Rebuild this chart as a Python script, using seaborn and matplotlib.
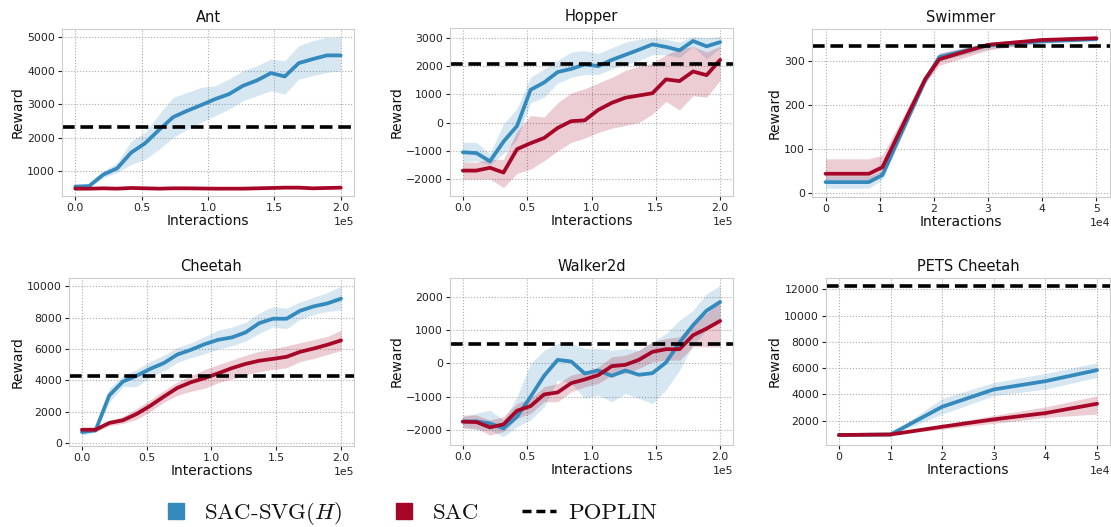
import numpy as np
import seaborn as sns
import matplotlib.pyplot as plt
from matplotlib.lines import Line2D
from matplotlib.ticker import MultipleLocator

# interaction steps (x values) for each environment
X_200K = [0, 10526, 21053, 31579, 42105, 52632, 63158, 73684, 84211, 94737,
          105263, 115789, 126316, 136842, 147368, 157895, 168421, 178947, 189474, 200000]
SWIM_X = [0, 8000, 10500, 18400, 21000, 30000, 40000, 50000]
PETS_X = [0, 10000, 20000, 30000, 40000, 50000]

# Ant
ant_svg = [530, 550, 890, 1080, 1550, 1830, 2230, 2610, 2800, 2970, 3150, 3300, 3550, 3710, 3930, 3830, 4230, 4350, 4460, 4460]
ant_svg_lo = [500, 520, 800, 950, 1200, 1350, 1650, 2000, 2250, 2450, 2650, 2850, 3100, 3250, 3400, 3300, 3750, 3850, 3950, 4000]
ant_svg_hi = [560, 580, 1000, 1250, 1900, 2150, 2700, 3200, 3350, 3500, 3550, 3750, 4000, 4150, 4350, 4300, 4750, 4900, 5000, 5000]
ant_sac = [470, 470, 480, 470, 490, 480, 470, 480, 480, 475, 470, 470, 470, 480, 490, 500, 500, 480, 490, 500]
ant_sac_lo = [440, 445, 455, 445, 465, 455, 445, 455, 455, 450, 445, 445, 445, 455, 465, 475, 470, 455, 465, 475]
ant_sac_hi = [500, 495, 505, 495, 515, 505, 495, 505, 505, 500, 495, 495, 495, 505, 515, 525, 530, 505, 515, 525]
ant_poplin = 2330

# Hopper
hop_svg = [-1050, -1080, -1370, -675, -120, 1160, 1420, 1790, 1900, 2060, 2000, 2220, 2400, 2580, 2770, 2680, 2560, 2890, 2700, 2850]
hop_svg_lo = [-1400, -1350, -1500, -1100, -600, 700, 900, 1400, 1600, 1700, 1700, 1900, 2050, 2200, 2400, 2400, 2300, 2700, 2250, 2650]
hop_svg_hi = [-700, -700, -1100, -50, 500, 1600, 1900, 2200, 2500, 2550, 2450, 2650, 2850, 2950, 3000, 2950, 2850, 3050, 3000, 3050]
hop_sac = [-1700, -1700, -1600, -1770, -940, -730, -545, -190, 50, 80, 450, 700, 880, 960, 1040, 1530, 1470, 1810, 1680, 2220]
hop_sac_lo = [-2000, -2000, -2000, -2300, -1800, -1650, -1350, -1000, -700, -550, -350, -200, -100, 0, 300, 750, 450, 950, 900, 1500]
hop_sac_hi = [-1400, -1400, -1300, -1300, -300, 250, 200, 700, 1050, 1200, 1400, 1600, 1850, 2000, 2100, 2400, 2600, 2700, 2500, 2700]
hop_poplin = 2060

# Swimmer
swim_svg = [24, 24, 40, 257, 309, 336, 345, 350]
swim_svg_lo = [10, 10, 30, 248, 300, 328, 340, 346]
swim_svg_hi = [38, 38, 50, 266, 318, 342, 350, 354]
swim_sac = [43, 43, 58, 259, 304, 337, 348, 352]
swim_sac_lo = [30, 30, 40, 249, 290, 325, 343, 348]
swim_sac_hi = [77, 77, 85, 269, 318, 342, 353, 356]
swim_poplin = 335

# Cheetah
che_svg = [700, 810, 3030, 3920, 4290, 4730, 5100, 5650, 5950, 6310, 6590, 6740, 7060, 7650, 7930, 7930, 8440, 8720, 8910, 9210]
che_svg_lo = [500, 700, 2600, 3600, 3600, 4200, 4600, 5150, 5450, 5700, 6000, 6200, 6500, 7000, 7400, 7300, 7900, 8200, 8400, 8500]
che_svg_hi = [900, 950, 3500, 4300, 4700, 5200, 5600, 6100, 6400, 6800, 7200, 7400, 7700, 8300, 8700, 8600, 9000, 9300, 9600, 10000]
che_sac = [850, 850, 1280, 1450, 1850, 2370, 2960, 3520, 3880, 4140, 4450, 4780, 5050, 5250, 5370, 5500, 5820, 6030, 6270, 6550]
che_sac_lo = [700, 700, 1100, 1250, 1500, 2000, 2600, 3050, 3300, 3500, 3850, 4100, 4350, 4550, 4700, 4800, 5200, 5400, 5650, 5900]
che_sac_hi = [950, 950, 1450, 1700, 2200, 2750, 3350, 3900, 4300, 4700, 5000, 5300, 5600, 5850, 6000, 6200, 6400, 6600, 6800, 7200]
che_poplin = 4260

# Walker2d
walk_svg = [-1740, -1740, -1800, -1950, -1600, -1000, -370, 110, 60, -300, -210, -370, -210, -340, -290, 30, 630, 1150, 1590, 1850]
walk_svg_lo = [-1900, -2000, -2000, -2200, -1900, -1700, -1300, -500, -600, -1050, -950, -1150, -900, -1050, -1200, -800, -200, 550, 1000, 1300]
walk_svg_hi = [-1600, -1500, -1400, -1700, -1000, 0, 400, 600, 600, 450, 450, 400, 450, 400, 650, 900, 1300, 1600, 2100, 2350]
walk_sac = [-1750, -1760, -1920, -1830, -1420, -1280, -930, -870, -590, -480, -350, -80, -40, 110, 350, 430, 430, 850, 1050, 1280]
walk_sac_lo = [-1950, -1950, -2150, -2050, -1650, -1500, -1150, -1150, -850, -700, -600, -350, -300, -150, 50, 100, 100, 500, 500, 500]
walk_sac_hi = [-1550, -1550, -1700, -1600, -1200, -1050, -700, -600, -350, -250, -100, 200, 250, 400, 650, 750, 800, 1250, 1500, 1950]
walk_poplin = 580

# PETS Cheetah
pets_svg = [910, 950, 3060, 4380, 5010, 5850]
pets_svg_lo = [860, 900, 2500, 3900, 4400, 5300]
pets_svg_hi = [960, 1000, 3700, 4900, 5600, 6400]
pets_sac = [910, 950, 1540, 2100, 2580, 3290]
pets_sac_lo = [860, 900, 1350, 1800, 2250, 2500]
pets_sac_hi = [960, 1000, 1700, 2400, 3050, 3900]
pets_poplin = 12250

BLUE = '#348ABD'
RED = '#A60628'

sns.set_style('whitegrid', rc={
    'axes.edgecolor': '#cccccc',
    'axes.linewidth': 1.2,
    'grid.color': '#aaaaaa',
    'grid.linestyle': ':',
    'grid.linewidth': 0.8,
    'xtick.bottom': True,
    'ytick.left': True,
    'xtick.color': '#222222',
    'ytick.color': '#222222',
    'text.color': '#111111',
    'axes.labelcolor': '#111111',
})
plt.rcParams['font.family'] = ['DejaVu Sans']
plt.rcParams['mathtext.fontset'] = 'cm'
plt.rcParams['xtick.major.size'] = 3
plt.rcParams['ytick.major.size'] = 3
plt.rcParams['xtick.major.width'] = 0.8
plt.rcParams['ytick.major.width'] = 0.8

W, H = 1111, 527
fig = plt.figure(figsize=(W / 100, H / 100), dpi=100)

# (left, top, right, bottom) in pixels
boxes = [(62, 29, 354, 196), (450, 28, 733, 196), (812, 29, 1110, 197),
         (69, 278, 354, 446), (450, 278, 733, 445), (826, 278, 1110, 445)]

panels = [
    ('Ant', X_200K, ant_svg, ant_svg_lo, ant_svg_hi, ant_sac, ant_sac_lo, ant_sac_hi, ant_poplin, (250, 5250), 1000),
    ('Hopper', X_200K, hop_svg, hop_svg_lo, hop_svg_hi, hop_sac, hop_sac_lo, hop_sac_hi, hop_poplin, (-2600, 3350), 1000),
    ('Swimmer', SWIM_X, swim_svg, swim_svg_lo, swim_svg_hi, swim_sac, swim_sac_lo, swim_sac_hi, swim_poplin, (-10, 373), 100),
    ('Cheetah', X_200K, che_svg, che_svg_lo, che_svg_hi, che_sac, che_sac_lo, che_sac_hi, che_poplin, (-190, 10530), 2000),
    ('Walker2d', X_200K, walk_svg, walk_svg_lo, walk_svg_hi, walk_sac, walk_sac_lo, walk_sac_hi, walk_poplin, (-2450, 2570), 1000),
    ('PETS Cheetah', PETS_X, pets_svg, pets_svg_lo, pets_svg_hi, pets_sac, pets_sac_lo, pets_sac_hi, pets_poplin, (150, 12860), 2000),
]

for (l, t, r, b), (name, x, sm, slo, shi, cm, clo, chi, pop, ylim, ystep) in zip(boxes, panels):
    ax = fig.add_axes([l / W, 1 - b / H, (r - l) / W, (b - t) / H])
    ax.fill_between(x, slo, shi, color=BLUE, alpha=0.2, lw=0)
    ax.fill_between(x, clo, chi, color=RED, alpha=0.2, lw=0)
    sns.lineplot(x=x, y=sm, color=BLUE, lw=2.7, ax=ax)
    sns.lineplot(x=x, y=cm, color=RED, lw=2.7, ax=ax)
    ax.axhline(pop, color='black', lw=2.6, ls=(0, (3.5, 1.6)))
    ax.set_ylim(*ylim)
    ax.yaxis.set_major_locator(MultipleLocator(ystep))
    ax.ticklabel_format(axis='x', style='sci', scilimits=(0, 0))
    ax.set_title(name, fontsize=10.5, pad=5)
    ax.set_xlabel('Interactions', fontsize=10, labelpad=1)
    ax.set_ylabel('Reward', fontsize=10, labelpad=2)
    ax.tick_params(labelsize=7.8, pad=2)
    ax.xaxis.get_offset_text().set_fontsize(7.8)

handles = [
    Line2D([], [], marker='s', ls='', color=BLUE, markersize=12),
    Line2D([], [], marker='s', ls='', color=RED, markersize=12),
    Line2D([], [], color='black', lw=2.5, ls=(0, (2.6, 1.4))),
]
fig.legend(handles, ['SAC-SVG$(H)$', 'SAC', 'POPLIN'], loc='center',
           bbox_to_anchor=(0.367, 0.025), ncol=3, frameon=False,
           prop={'family': 'cmr10', 'size': 16.5}, handlelength=1.5,
           handletextpad=0.5, columnspacing=1.9)

fig.savefig('out.png', dpi=100)
